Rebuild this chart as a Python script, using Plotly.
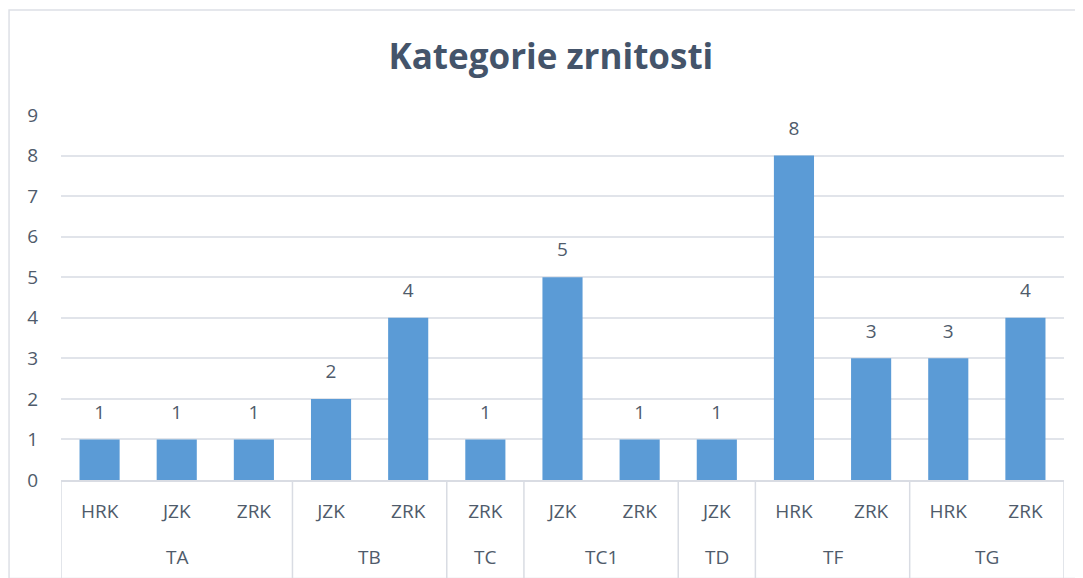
import plotly.graph_objects as go

groups = ["TA", "TA", "TA", "TB", "TB", "TC", "TC1", "TC1", "TD", "TF", "TF", "TG", "TG"]
kinds = ["HRK", "JZK", "ZRK", "JZK", "ZRK", "ZRK", "JZK", "ZRK", "JZK", "HRK", "ZRK", "HRK", "ZRK"]
counts = [1, 1, 1, 2, 4, 1, 5, 1, 1, 8, 3, 3, 4]
y_ticks = list(range(0, 10))

FONT = "Open Sans"
TXT = "#4f5b6b"
GRID = "#e1e4ea"
DIV = "#d9dce3"

pos = list(range(len(kinds)))

# group spans derived from the group list
spans = []
start = 0
for i in range(1, len(groups) + 1):
    if i == len(groups) or groups[i] != groups[start]:
        spans.append((groups[start], start, i - 1))
        start = i

fig = go.Figure()
fig.add_trace(
    go.Bar(
        x=pos,
        y=counts,
        marker=dict(color="#5b9bd6", line=dict(width=0)),
        width=0.52,
        customdata=[f"{g} {k}" for g, k in zip(groups, kinds)],
        hovertemplate="%{customdata}: %{y}<extra></extra>",
    )
)
fig.add_trace(
    go.Scatter(
        x=pos,
        y=counts,
        mode="markers+text",
        text=[str(c) for c in counts],
        textposition="top center",
        textfont=dict(family=FONT, size=19, color=TXT),
        marker=dict(size=24, opacity=0),
        cliponaxis=False,
        hoverinfo="skip",
    )
)

annotations = []
shapes = []
for name, a, b in spans:
    annotations.append(
        dict(
            x=(a + b) / 2,
            xref="x",
            y=-0.211,
            yref="paper",
            text=name,
            showarrow=False,
            xanchor="center",
            yanchor="middle",
            font=dict(family=FONT, size=19, color=TXT),
        )
    )
boundaries = [spans[0][1] - 0.5] + [b + 0.5 for _, _, b in spans]
for xb in boundaries:
    shapes.append(
        dict(
            type="line",
            xref="x",
            yref="paper",
            x0=xb,
            x1=xb,
            y0=0,
            y1=-0.27,
            line=dict(color=DIV, width=1.5),
        )
    )
shapes.append(
    dict(
        type="rect",
        xref="paper",
        yref="paper",
        x0=-0.0518,
        x1=1.018,
        y0=-0.27,
        y1=1.2877,
        line=dict(color="#dde0e6", width=1.5),
        fillcolor="rgba(0,0,0,0)",
        layer="below",
    )
)

fig.update_layout(
    width=1075,
    height=570,
    margin=dict(l=53, r=19, t=107, b=98),
    paper_bgcolor="white",
    plot_bgcolor="white",
    showlegend=False,
    title=dict(
        text="<b>Kategorie zrnitosti</b>",
        x=0.505,
        xanchor="center",
        y=0.915,
        yanchor="middle",
        font=dict(family=FONT, size=35, color="#44546A"),
    ),
    xaxis=dict(
        range=[-0.5, len(kinds) - 0.5],
        tickvals=pos,
        ticktext=kinds,
        showgrid=False,
        zeroline=False,
        showline=True,
        linecolor=DIV,
        linewidth=1.5,
        ticks="",
        ticklabelstandoff=13,
        tickfont=dict(family=FONT, size=19, color=TXT),
    ),
    yaxis=dict(
        range=[0, 9],
        tickvals=y_ticks,
        showgrid=True,
        gridcolor=GRID,
        gridwidth=1.5,
        zeroline=False,
        showline=False,
        ticks="",
        ticklabelstandoff=22,
        tickfont=dict(family=FONT, size=19, color=TXT),
    ),
    annotations=annotations,
    shapes=shapes,
)

fig.write_html("out.html")
